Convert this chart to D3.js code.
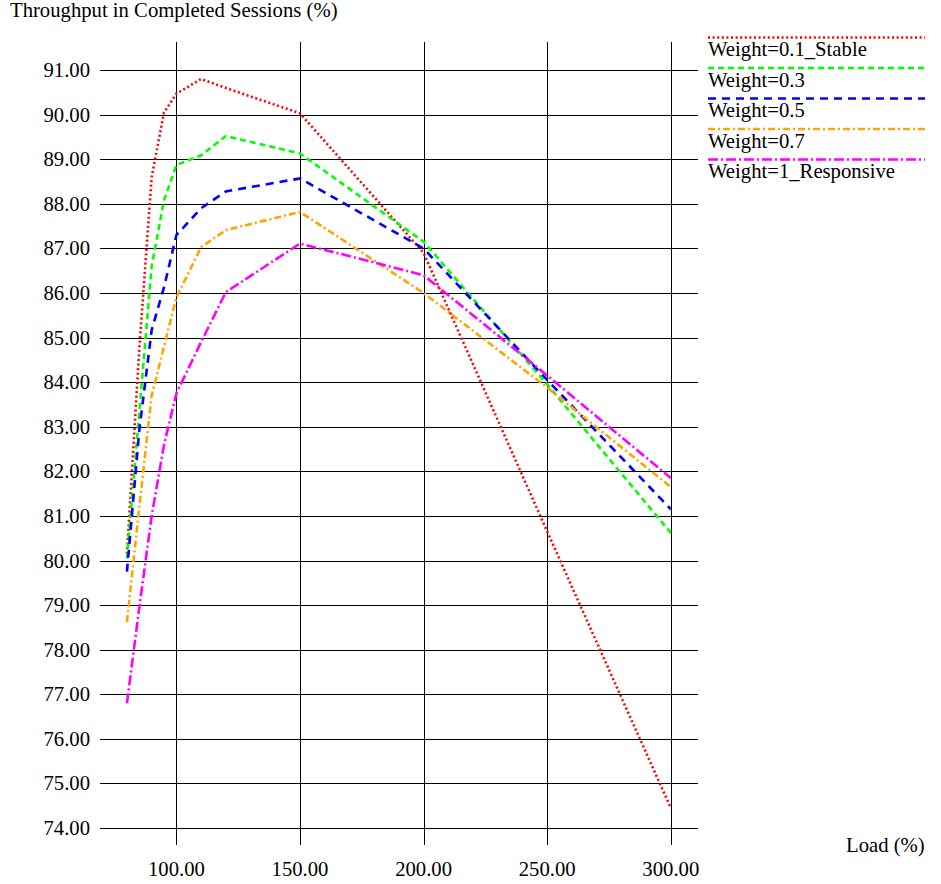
<!DOCTYPE html>
<html>
<head>
<meta charset="utf-8">
<script src="https://cdn.jsdelivr.net/npm/d3@7"></script>
<style>
  body { margin: 0; background: #fff; }
</style>
</head>
<body>
<div class="chart"></div>
<script>
// chart values
var loads = [80, 85, 90, 95, 100, 110, 120, 150, 200, 250, 300];
var weight01 = [80.15, 84.75, 88.6, 90.05, 90.47, 90.8, 90.6, 90.03, 86.9, 80.65, 74.45];
var weight03 = [80.05, 83.33, 86.6, 88.08, 88.87, 89.09, 89.52, 89.13, 87.15, 83.95, 80.62];
var weight05 = [79.75, 82.92, 85.17, 86.13, 87.3, 87.9, 88.28, 88.57, 87.0, 84.05, 81.15];
var weight07 = [78.62, 81.2, 83.7, 84.8, 85.9, 87.03, 87.41, 87.82, 86.0, 83.88, 81.65];
var weight1 = [76.8, 78.95, 81.0, 82.6, 83.75, 84.9, 86.02, 87.11, 86.4, 84.15, 81.85];

var seriesNames = ["Weight=0.1_Stable", "Weight=0.3", "Weight=0.5", "Weight=0.7", "Weight=1_Responsive"];
var xTicks = [100, 150, 200, 250, 300];
var yTicks = [74, 75, 76, 77, 78, 79, 80, 81, 82, 83, 84, 85, 86, 87, 88, 89, 90, 91];

var colors = ["#ff0000", "#00ff00", "#0000ff", "#ffa500", "#ff00ff"];
var dashes = ["2,2.6", "6,4", "8,6", "7,3,2,3", "10,3,2,3"];

var fontFamily = "'Liberation Serif', 'Times New Roman', Times, 'DejaVu Serif', serif";

var svgWidth = 941;
var svgHeight = 884;

var svg = d3.select(".chart")
  .append("svg")
  .attr("width", svgWidth)
  .attr("height", svgHeight)
  .style("font-family", fontFamily)
  .style("font-size", "20.7px");

// Step 1: scales (plot box 100..698 x 42..845)
var xScale = d3.scaleLinear().domain([69.1, 311]).range([100, 698]);
var yScale = d3.scaleLinear().domain([73.62, 91.63]).range([845, 42]);

// Step 2: grid
var grid = svg.append("g");
grid.selectAll("line.h").data(yTicks).enter()
  .append("line")
  .attr("x1", xScale(69.1)).attr("x2", xScale(311))
  .attr("y1", d => Math.round(yScale(d)) + 0.5)
  .attr("y2", d => Math.round(yScale(d)) + 0.5)
  .attr("stroke", "#000").attr("stroke-width", 1);

grid.selectAll("line.v").data(xTicks).enter()
  .append("line")
  .attr("y1", yScale(91.63)).attr("y2", yScale(73.62))
  .attr("x1", d => Math.round(xScale(d)) + 0.5)
  .attr("x2", d => Math.round(xScale(d)) + 0.5)
  .attr("stroke", "#000").attr("stroke-width", 1);

// Step 3: tick labels
svg.selectAll("text.ytick").data(yTicks).enter()
  .append("text")
  .attr("x", 90)
  .attr("y", d => yScale(d) + 7)
  .attr("text-anchor", "end")
  .text(d => d3.format(".2f")(d));

svg.selectAll("text.xtick").data(xTicks).enter()
  .append("text")
  .attr("x", d => xScale(d))
  .attr("y", 876)
  .attr("text-anchor", "middle")
  .text(d => d3.format(".2f")(d));

// axis titles
svg.append("text")
  .attr("x", 10).attr("y", 17).text("Throughput in Completed Sessions (%)");
svg.append("text")
  .attr("x", 846).attr("y", 852).text("Load (%)");

// Step 4: lines
var allSeries = [weight01, weight03, weight05, weight07, weight1];
var line = d3.line()
  .x((d, i) => xScale(loads[i]))
  .y(d => yScale(d));

allSeries.forEach(function(vals, i) {
  svg.append("path")
    .datum(vals)
    .attr("d", line)
    .attr("fill", "none")
    .attr("stroke", colors[i])
    .attr("stroke-width", 2.6)
    .attr("stroke-dasharray", dashes[i]);
});

// Step 5: legend
var legend = svg.selectAll("g.legend").data(seriesNames).enter()
  .append("g")
  .attr("transform", (d, i) => `translate(708, ${37.5 + i * 30.5})`);

legend.append("line")
  .attr("x1", 0).attr("x2", 217)
  .attr("y1", 0).attr("y2", 0)
  .attr("stroke", (d, i) => colors[i])
  .attr("stroke-width", 2.6)
  .attr("stroke-dasharray", (d, i) => dashes[i]);

legend.append("text")
  .attr("x", 0)
  .attr("y", 18.5)
  .text(d => d);
</script>
</body>
</html>
